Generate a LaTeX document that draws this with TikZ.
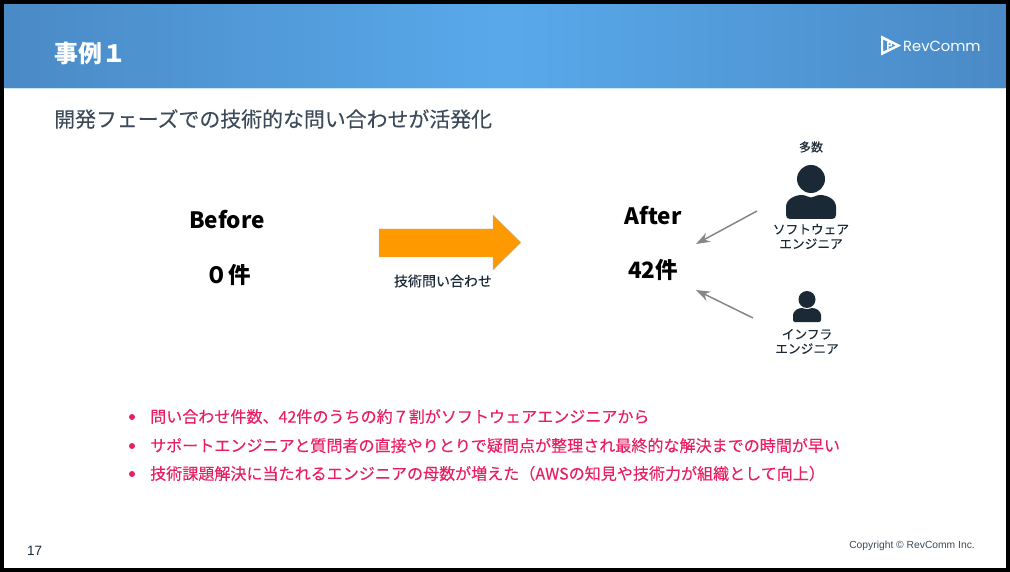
\documentclass[tikz,border=0pt]{standalone}
\usepackage{fontspec}
\setmainfont{Noto Sans CJK JP}
\newfontfamily\lightmed[FakeBold=0.1]{Noto Sans CJK JP}
\newfontfamily\logofont{Poppins}
\newfontfamily\numfont{Liberation Sans}
\usetikzlibrary{arrows.meta}
\definecolor{ink}{HTML}{1B2936}
\definecolor{slate}{HTML}{3C4A5A}
\definecolor{pinktext}{HTML}{E91E63}
\definecolor{hdark}{HTML}{4A8AC6}
\definecolor{hlight}{HTML}{59A9EA}
\definecolor{orangearrow}{HTML}{FF9900}
\tikzset{
  x=1pt,y=-1pt,
  big/.style={font=\fontsize{22.5}{27}\selectfont\bfseries,text=black,inner sep=0pt},
  smallcap/.style={font=\lightmed\fontsize{12.7}{14.5}\selectfont,text=ink,inner sep=0pt,align=center},
  bullettext/.style={font=\lightmed\fontsize{16.05}{18}\selectfont,text=pinktext,anchor=west,inner sep=0pt},
  dotmark/.style={circle,fill=pinktext,minimum size=6pt,inner sep=0pt},
  feed/.style={draw=gray!95,line width=1.5pt,-{Stealth[length=14pt,width=10pt]}},
}
\begin{document}
\begin{tikzpicture}
\useasboundingbox (0,0) rectangle (1010,572);
\fill[white] (0,0) rectangle (1010,572);
% header
\shade[left color=hdark,right color=hlight] (4,4) rectangle (505,88);
\shade[left color=hlight,right color=hdark] (505,4) rectangle (1006,88);
\fill[hlight!30] (4,88) rectangle (1006,89);
% frame
\draw[black,line width=4pt] (2,2) rectangle (1007.5,570);
% header texts
\node[anchor=west,inner sep=0pt,text=white,font=\fontsize{23.9}{26}\selectfont\bfseries] (title) at (54,53) {事例１};
\fill[white,even odd rule] (881,35.5) -- (901,45.5) -- (881,55.5) -- cycle (883.2,39.5) -- (883.2,51.5) -- (896,45.5) -- cycle;
\fill[white] (887,42) rectangle (888.5,50) (887,42) rectangle (892,43.5) (890.5,42) rectangle (892,46) (887,45) rectangle (892,46.5);
\node[anchor=west,inner sep=0pt,text=white,font=\logofont\fontsize{14.7}{18}\selectfont] (logo) at (903,46) {RevComm};
\node[anchor=west,inner sep=0pt,text=slate,font=\lightmed\fontsize{20.9}{23}\selectfont] (sub) at (54,119) {開発フェーズでの技術的な問い合わせが活発化};
% before
\node[big] (before) at (227,220) {Before};
\node[big] (zero) at (228,274.5) {０件};
% big arrow
\fill[orangearrow,draw=gray!55,line width=0.3pt] (379,229) -- (493,229) -- (493,215) -- (521,242.5) -- (493,270) -- (493,257) -- (379,257) -- cycle;
\node[inner sep=0pt,text=ink,font=\lightmed\fontsize{14}{16}\selectfont] (label) at (443,281) {技術問い合わせ};
% after
\node[big] (after) at (653,216) {After};
\node[big] (count) at (653,270) {42件};
% many
\node[inner sep=0pt,text=ink,font=\lightmed\fontsize{12}{13}\selectfont] (many) at (811,147) {多数};
% person 1
\fill[ink] (811,179) circle (14);
\fill[ink] (790,219) .. controls (787.5,219) and (786,217.5) .. (786,215) -- (786,207) .. controls (786,199) and (795,195) .. (802,195) .. controls (806,195) and (808,197.5) .. (811,197.5) .. controls (814,197.5) and (816,195) .. (820,195) .. controls (827,195) and (836,199) .. (836,207) -- (836,215) .. controls (836,217.5) and (834.5,219) .. (832,219) -- cycle;
\node[smallcap] (sw) at (811,236.5) {ソフトウェア\\エンジニア};
% person 2
\fill[ink] (807,299.5) circle (8.5);
\fill[ink] (795,322) .. controls (794,322) and (793,321) .. (793,320) -- (793,315) .. controls (793,311) and (798,308) .. (802,308) .. controls (804,308) and (805,309.3) .. (807,309.3) .. controls (809,309.3) and (810,308) .. (812,308) .. controls (816,308) and (821,311) .. (821,315) -- (821,320) .. controls (821,321) and (820,322) .. (819,322) -- cycle;
\node[smallcap] (infra) at (807,341.5) {インフラ\\エンジニア};
% arrows
\coordinate (c1s) at (757,211);
\coordinate (c1e) at (696,244);
\coordinate (c2s) at (753,318);
\coordinate (c2e) at (696,290);
\draw[feed] (c1s) -- (c1e);
\draw[feed] (c2s) -- (c2e);
% bullets
\node[dotmark] (d1) at (132,417) {};
\node[dotmark] (d2) at (132,446) {};
\node[dotmark] (d3) at (132,474) {};
\node[bullettext] (b1) at (150,416.5) {問い合わせ件数、42件のうちの約７割がソフトウェアエンジニアから};
\node[bullettext] (b2) at (150,445.5) {サポートエンジニアと質問者の直接やりとりで疑問点が整理され最終的な解決までの時間が早い};
\node[bullettext] (b3) at (150,473.5) {技術課題解決に当たれるエンジニアの母数が増えた（AWSの知見や技術力が組織として向上）};
% footer
\node[anchor=west,inner sep=0pt,text=ink,font=\numfont\fontsize{13.5}{14}\selectfont] (page) at (27,551) {17};
\node[anchor=east,inner sep=0pt,text=slate,font=\numfont\fontsize{10.3}{12}\selectfont] (copy) at (975,546) {Copyright © RevComm Inc.};
\end{tikzpicture}
\end{document}
